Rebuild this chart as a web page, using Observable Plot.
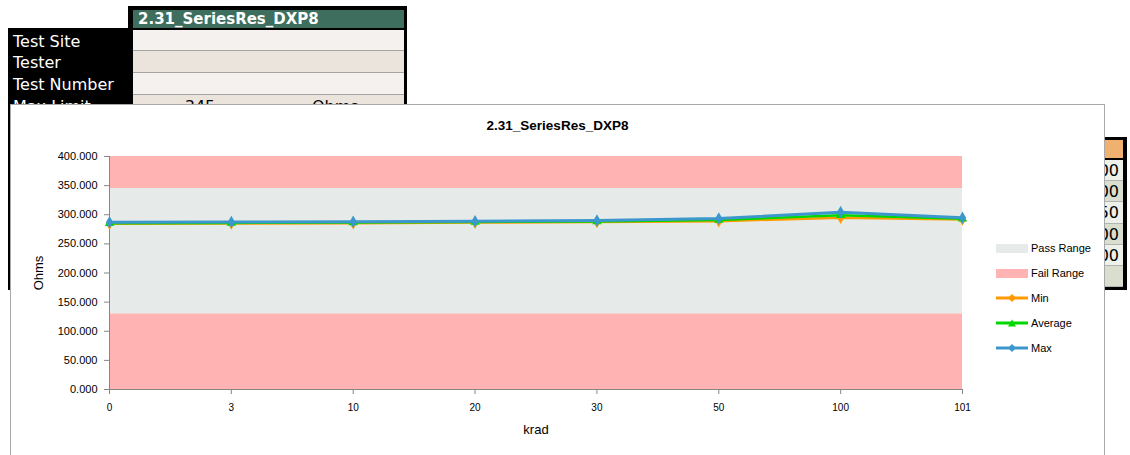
<!DOCTYPE html>
<html><head><meta charset="utf-8">
<script src="https://cdn.jsdelivr.net/npm/d3@7"></script>
<script src="https://cdn.jsdelivr.net/npm/@observablehq/plot@0.6"></script>
<style>
html,body{margin:0;padding:0;background:#fff;width:1130px;height:455px;overflow:hidden;position:relative;font-family:"DejaVu Sans",Verdana,sans-serif;}
.abs{position:absolute;box-sizing:border-box;}
.lbl{color:#fff;font-size:16px;line-height:21px;white-space:nowrap;}
.cell{left:133px;width:271px;border-bottom:1.5px solid #a3a3a3;}
.rc{left:1105px;width:18px;border-bottom:1.5px solid #b3b3b3;font-size:16px;line-height:21px;text-align:right;overflow:hidden;white-space:nowrap;direction:rtl;padding-right:4px;}
#frame{left:10px;top:104px;width:1095px;height:360px;background:#fff;border:1.5px solid #a9a9a9;}
#chart{left:10px;top:104px;}
#title{left:10px;width:1095px;top:118px;text-align:center;font:bold 13.5px "Liberation Sans",Arial,sans-serif;color:#000;}
.leg{left:996px;font:11px "Liberation Sans",Arial,sans-serif;color:#000;}
.leg svg{vertical-align:middle;}
svg g[aria-label$="axis tick"]{stroke:#868686;}
svg g[aria-label="x-axis tick label"]{font-size:10px;}
svg g[aria-label$="axis label"]{font-size:13px;}
</style></head><body>
<script>
const doses = ["0","3","10","20","30","50","100","101"];
const minVals = [284.5, 285, 285.5, 286.5, 287.5, 289, 295, 292];
const avgVals = [285.5, 286, 286.5, 287.5, 288.5, 291, 299, 293];
const maxVals = [287, 287.5, 288, 289, 290, 293.5, 304.5, 295];
const minLimit = 130;
const maxLimit = 345;
const yTop = 400;
const yTicks = [0, 50, 100, 150, 200, 250, 300, 350, 400];
const testName = "2.31_SeriesRes_DXP8";
const infoLabels = ["Test Site", "Tester", "Test Number", "Max Limit"];
const maxLimitUnit = "Ohms";
const sideTableText = ["100", "100", "150", "100", "100", ""];
const seriesNames = ["Min", "Average", "Max"];
const seriesColors = ["#ff9a00", "#00d800", "#3c98cc"];
const passColor = "#e6ebea", failColor = "#ffb3b3";

function el(tag, cls, style, text){const e=document.createElement(tag); if(cls) e.className=cls; if(style) e.style.cssText=style; if(text!=null) e.textContent=text; document.body.appendChild(e); return e;}

// Background spreadsheet: left table
el("div","abs","left:128px;top:6px;width:279px;height:100px;background:#000;");
el("div","abs","left:8px;top:28px;width:125px;height:262px;background:#000;");
el("div","abs","left:133px;top:10px;width:271px;height:18px;background:#3d6e5e;color:#fff;font:bold 15px 'DejaVu Sans',Verdana,sans-serif;line-height:18px;padding-left:5px;", testName);
const rowTops=[30,51,73,95];
const rowCols=["#f4f1ee","#ebe4dd","#f4f1ee","#ebe4dd"];
infoLabels.forEach((t,i)=>{
  el("div","abs cell",`top:${rowTops[i]}px;height:${(rowTops[i+1]||117)-rowTops[i]}px;background:${rowCols[i]};`);
  el("div","abs lbl",`left:13px;top:${rowTops[i]+1}px;`, t);
});
el("div","abs","left:170px;top:96px;width:60px;text-align:center;font-size:16px;line-height:21px;color:#000;", String(maxLimit));
el("div","abs","left:312px;top:96px;font-size:16px;line-height:21px;color:#000;", maxLimitUnit);

// Right table
el("div","abs","left:1100px;top:137px;width:27px;height:153px;background:#000;");
el("div","abs","left:1105px;top:140px;width:18px;height:18px;background:#f0b070;");
const rTops=[160,181,202,224,245,266,287];
sideTableText.forEach((t,i)=>{
  el("div","abs rc",`top:${rTops[i]}px;height:${rTops[i+1]-rTops[i]}px;background:${i%2? "#dadecf":"#eef0ea"};color:#000;`, t);
});

// Chart frame
const frame=el("div","abs",null,null); frame.id="frame";
const title=el("div","abs",null,testName); title.id="title";

const rows = doses.map((d,i)=>({dose:d, min:minVals[i], avg:avgVals[i], max:maxVals[i]}));
const bands = [
  {kind:"fail", y1:0, y2:minLimit},
  {kind:"pass", y1:minLimit, y2:maxLimit},
  {kind:"fail", y1:maxLimit, y2:yTop}
];
const keys=["min","avg","max"];
const symbols=["diamond","triangle","diamond"];
const seriesMarks=[];
keys.forEach((k,i)=>{
  seriesMarks.push(Plot.line(rows,{x:"dose",y:k,stroke:seriesColors[i],strokeWidth:i===2?3:2.5}));
  seriesMarks.push(Plot.dot(rows,{x:"dose",y:k,symbol:symbols[i],fill:seriesColors[i],r:symbols[i]==="triangle"?3.5:3.8}));
});

const chart = Plot.plot({
  width:1094, height:351,
  marginLeft:99, marginRight:142, marginTop:52, marginBottom:66,
  style:{fontFamily:"'Liberation Sans',Arial,sans-serif", fontSize:"11px", color:"#000", background:"transparent", overflow:"visible"},
  x:{type:"point", domain:doses, padding:0, round:false, label:"krad", labelArrow:"none", labelAnchor:"center", labelOffset:44, tickSize:5, tickPadding:9},
  y:{domain:[0,yTop], ticks:yTicks, tickFormat:d3.format(".3f"), label:"Ohms", labelArrow:"none", labelAnchor:"center", labelOffset:76, tickSize:5, tickPadding:7},
  marks:[
    Plot.rect(bands,{y1:"y1",y2:"y2",fill:d=>d.kind==="pass"?passColor:failColor}),
    Plot.ruleY([0],{stroke:"#868686"}),
    Plot.ruleX([doses[0]],{stroke:"#868686"}),
    ...seriesMarks
  ]
});
chart.id="chart"; chart.classList.add("abs");
chart.style.position="absolute"; chart.style.left="10px"; chart.style.top="104px";
document.body.appendChild(chart);

// Legend
const legTops=[248,273,298,323,348];
const legItems=[{name:"Pass Range",type:"rect",color:passColor},{name:"Fail Range",type:"rect",color:failColor}]
  .concat(seriesNames.map((n,i)=>({name:n,type:"line",color:seriesColors[i],sym:symbols[i]})));
legItems.forEach((it,i)=>{
  const d=el("div","abs leg",`top:${legTops[i]-9}px;height:16px;line-height:16px;`);
  let sw;
  if(it.type==="rect") sw=`<svg width="32" height="16"><rect x="0" y="4" width="32" height="9" fill="${it.color}"/></svg>`;
  else {
    const m = it.sym==="triangle" ? `<path d="M16,4.5 L20,11.5 L12,11.5Z" fill="${it.color}"/>` : `<path d="M16,4 L20,8 L16,12 L12,8Z" fill="${it.color}"/>`;
    sw=`<svg width="32" height="16"><line x1="0" x2="32" y1="8" y2="8" stroke="${it.color}" stroke-width="3"/>${m}</svg>`;
  }
  d.innerHTML=sw+`<span style="margin-left:3px;vertical-align:middle;">${it.name}</span>`;
});
</script>
</body></html>
